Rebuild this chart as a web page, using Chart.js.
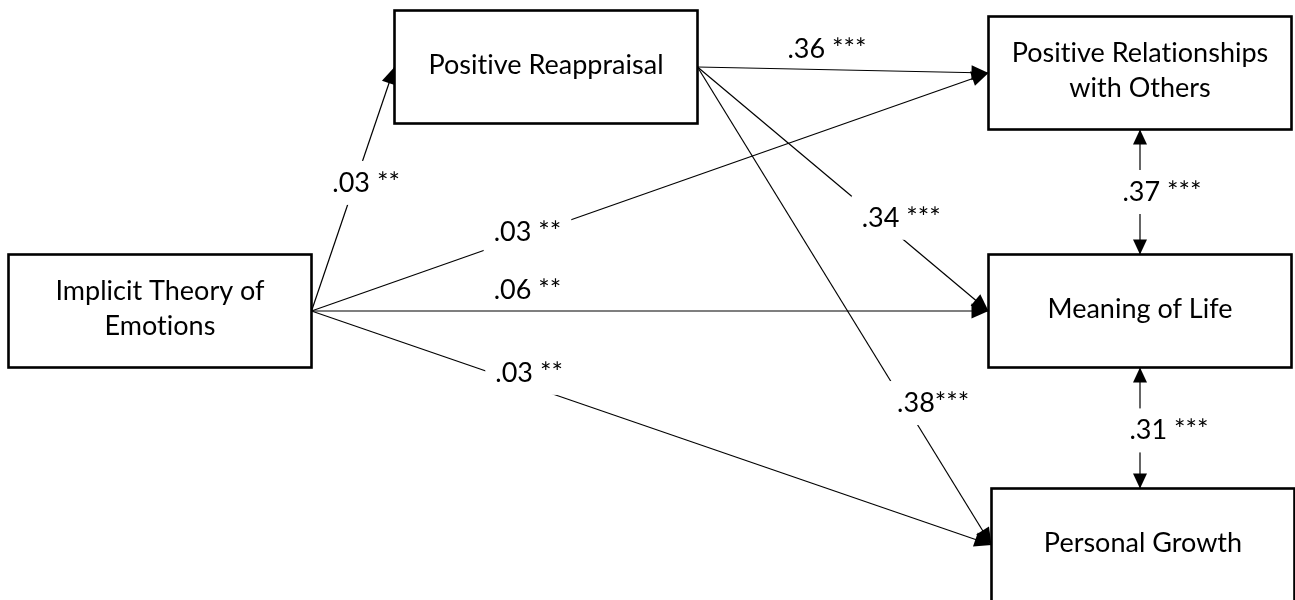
<!DOCTYPE html>
<html>
<head>
<meta charset="utf-8">
<script src="https://cdn.jsdelivr.net/npm/chart.js@4.4.0/dist/chart.umd.min.js"></script>
<style>
  html, body { margin: 0; padding: 0; background: #fff; }
  #wrap { width: 1295px; height: 600px; }
</style>
</head>
<body>
<div id="wrap"><canvas id="pathChart"></canvas></div>
<script>
// variables of the model
const nodeNames = [['Implicit Theory of', 'Emotions'], ['Positive Reappraisal'], ['Positive Relationships', 'with Others'], ['Meaning of Life'], ['Personal Growth']];
// node centres, diagram units
const nodeX = [160, 546, 1140, 1140, 1143];
const nodeY = [311, 67, 73, 311, 545];

// direct paths (from -> to) with coefficients
const pathFrom = [0, 0, 0, 0, 1, 1, 1];
const pathTo = [1, 2, 3, 4, 2, 3, 4];
const pathCoef = ['.03 **', '.03 **', '.06 **', '.03 **', '.36 ***', '.34 ***', '.38***'];

// correlations between outcomes (double headed)
const corrFrom = [2, 3];
const corrTo = [3, 4];
const corrCoef = ['.37 ***', '.31 ***'];

// layout
const BOX_W = 303, BOX_H = 113;
const FONT = '27px Lato, "Open Sans", sans-serif';
const pathLabelT = [0.525, 0.319, 0.319, 0.32, 0.445, 0.70, 0.703];
const pathLabelDx = [11, 0, 0, 0, 0, 0, 29];
const pathLabelDy = [0, -3, -21, -13, -20, -20, 0];
const pathLabelCut = [true, true, false, true, false, true, true];
const corrLabelT = [0.5, 0.52];
const corrLabelDx = [22, 29];

// endpoints: right middle of source box -> left middle of target box
const pathEnds = pathFrom.map((f, i) => {
  const t = pathTo[i];
  return [{ x: nodeX[f] + BOX_W / 2, y: nodeY[f] }, { x: nodeX[t] - BOX_W / 2, y: nodeY[t] }];
});
const corrEnds = corrFrom.map((f, i) => {
  const t = corrTo[i];
  return [{ x: nodeX[f], y: nodeY[f] + BOX_H / 2 }, { x: nodeX[f], y: nodeY[t] - BOX_H / 2 }];
});

const lineSet = pts => ({
  data: pts,
  showLine: true,
  borderColor: '#000',
  borderWidth: 1.2,
  pointRadius: 0,
  pointHoverRadius: 0
});

function arrowHead(ctx, x0, y0, x1, y1, len, half) {
  const a = Math.atan2(y1 - y0, x1 - x0);
  ctx.beginPath();
  ctx.moveTo(x1, y1);
  ctx.lineTo(x1 - len * Math.cos(a) + half * Math.sin(a), y1 - len * Math.sin(a) - half * Math.cos(a));
  ctx.lineTo(x1 - len * Math.cos(a) - half * Math.sin(a), y1 - len * Math.sin(a) + half * Math.cos(a));
  ctx.closePath();
  ctx.fill();
}

function setFont(ctx) {
  ctx.font = FONT;
  ctx.letterSpacing = '0.01px'; // keeps Lato from joining "ti"
  ctx.textAlign = 'center';
  ctx.textBaseline = 'middle';
}

function drawLabel(ctx, text, x, y, cut) {
  setFont(ctx);
  const w = ctx.measureText(text).width;
  if (cut) {
    ctx.fillStyle = '#fff';
    ctx.fillRect(x - w / 2 - 10, y - 22, w + 20, 44);
  }
  ctx.fillStyle = '#000';
  ctx.fillText(text, x, y);
}

const diagram = {
  id: 'diagram',
  afterDatasetsDraw(chart) {
    const ctx = chart.ctx;
    const px = v => chart.scales.x.getPixelForValue(v);
    const py = v => chart.scales.y.getPixelForValue(v);
    ctx.save();
    ctx.fillStyle = '#000';

    // path labels and arrows
    pathEnds.forEach((e, i) => {
      const x0 = px(e[0].x), y0 = py(e[0].y), x1 = px(e[1].x), y1 = py(e[1].y);
      const t = pathLabelT[i];
      drawLabel(ctx, pathCoef[i], x0 + (x1 - x0) * t + pathLabelDx[i], y0 + (y1 - y0) * t + pathLabelDy[i], pathLabelCut[i]);
      ctx.fillStyle = '#000';
      arrowHead(ctx, x0, y0, x1, y1, 17, 7.5);
    });

    // correlations: arrows on both ends
    corrEnds.forEach((e, i) => {
      const x0 = px(e[0].x), y0 = py(e[0].y), x1 = px(e[1].x), y1 = py(e[1].y);
      const t = corrLabelT[i];
      drawLabel(ctx, corrCoef[i], x0 + corrLabelDx[i], y0 + (y1 - y0) * t, true);
      ctx.fillStyle = '#000';
      arrowHead(ctx, x0, y0, x1, y1, 15, 7);
      arrowHead(ctx, x1, y1, x0, y0, 15, 7);
    });

    // boxes
    nodeNames.forEach((lines, i) => {
      const l = px(nodeX[i] - BOX_W / 2), r = px(nodeX[i] + BOX_W / 2);
      const top = py(nodeY[i] - BOX_H / 2), bot = py(nodeY[i] + BOX_H / 2);
      ctx.fillStyle = '#fff';
      ctx.fillRect(l, top, r - l, bot - top);
      ctx.lineWidth = 2.6;
      ctx.strokeStyle = '#000';
      ctx.strokeRect(l, top, r - l, bot - top);
      ctx.fillStyle = '#000';
      setFont(ctx);
      const cx = px(nodeX[i]), cy = py(nodeY[i]);
      const lh = 35;
      lines.forEach((s, k) => {
        ctx.fillText(s, cx, cy + (k - (lines.length - 1) / 2) * lh - 2);
      });
    });
    ctx.restore();
  }
};

new Chart(document.getElementById('pathChart'), {
  type: 'scatter',
  data: { datasets: pathEnds.concat(corrEnds).map(lineSet) },
  options: {
    responsive: true,
    maintainAspectRatio: false,
    animation: false,
    layout: { padding: 0 },
    plugins: { legend: { display: false }, tooltip: { enabled: false } },
    events: [],
    scales: {
      x: { type: 'linear', min: 0, max: 1295, display: false },
      y: { type: 'linear', min: 0, max: 600, reverse: true, display: false }
    }
  },
  plugins: [diagram]
});
</script>
</body>
</html>
